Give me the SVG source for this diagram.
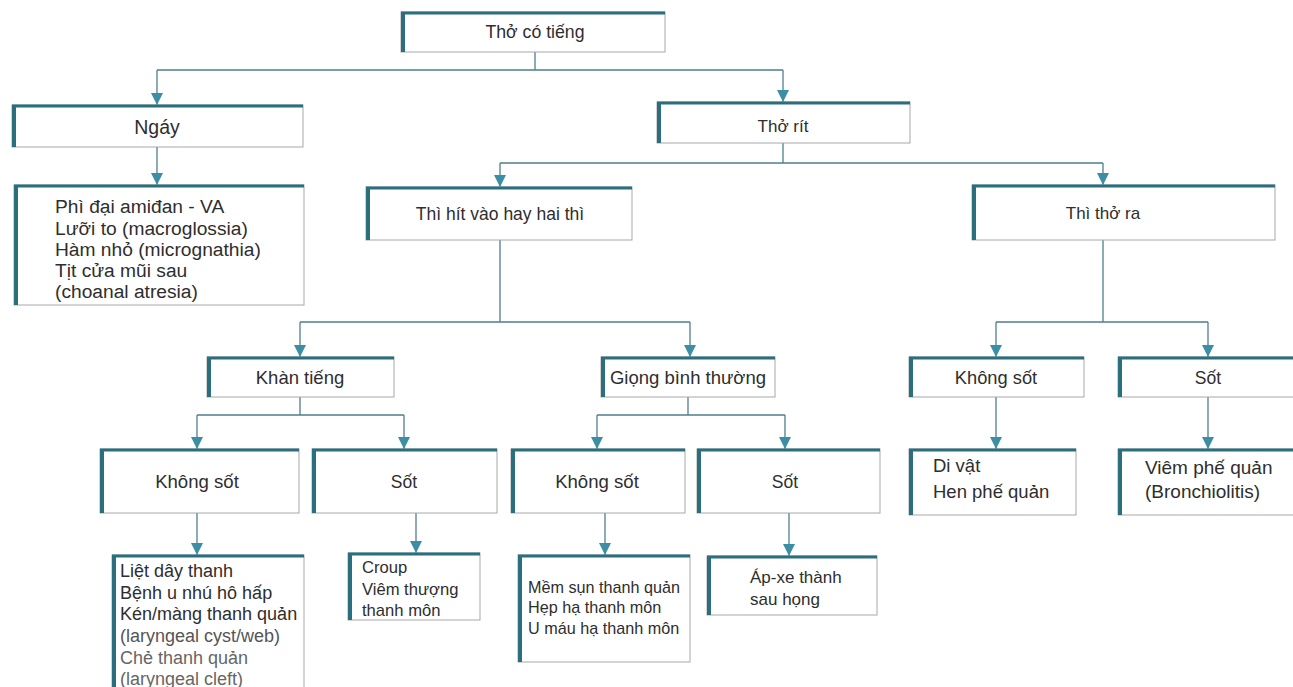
<svg xmlns="http://www.w3.org/2000/svg" width="1293" height="687" viewBox="0 0 1293 687">
<style>
.box{fill:#fff;stroke:#a8a8a8;stroke-width:1}
.top{stroke:#2b6f7e;stroke-width:3}
.left{stroke:#2b6f7e;stroke-width:4}
.h{font-family:"Liberation Sans",Arial,sans-serif;font-size:17px;fill:#2e2e2e;text-anchor:middle}
.l{font-family:"Liberation Sans",Arial,sans-serif;font-size:17.5px;fill:#2e2e2e}
.c{fill:none;stroke:#4f7f8c;stroke-width:1.3}
.ca{fill:none;stroke:#4f7f8c;stroke-width:1.3;marker-end:url(#ah)}
</style>
<defs>
<marker id="ah" viewBox="0 0 12 12" refX="12" refY="6" markerWidth="12" markerHeight="12" markerUnits="userSpaceOnUse" orient="auto">
<path d="M0,0 L12,6 L0,12 z" fill="#3c8ea5"/>
</marker>
</defs>
<rect width="1293" height="687" fill="#fff"/>

<g id="connectors">
<path class="c" d="M535,52 V70 M157,70 H783"/>
<path class="ca" d="M157,70 V105"/>
<path class="ca" d="M783,70 V102"/>
<path class="ca" d="M157,147 V185"/>
<path class="c" d="M783,143 V163 M500,163 H1103"/>
<path class="ca" d="M500,163 V187"/>
<path class="ca" d="M1103,163 V185"/>
<path class="c" d="M500,240 V322 M300,322 H690"/>
<path class="ca" d="M300,322 V357"/>
<path class="ca" d="M690,322 V357"/>
<path class="c" d="M1103,240 V322 M996,322 H1208"/>
<path class="ca" d="M996,322 V357"/>
<path class="ca" d="M1208,322 V357"/>
<path class="c" d="M300,397 V415 M197,415 H404"/>
<path class="ca" d="M197,415 V449"/>
<path class="ca" d="M404,415 V449"/>
<path class="c" d="M688,397 V415 M597,415 H785"/>
<path class="ca" d="M597,415 V449"/>
<path class="ca" d="M785,415 V449"/>
<path class="ca" d="M996,397 V449"/>
<path class="ca" d="M1208,397 V449"/>
<path class="ca" d="M197,513 V555"/>
<path class="ca" d="M416,513 V553"/>
<path class="ca" d="M605,513 V555"/>
<path class="ca" d="M789,513 V556"/>
</g>

<g id="n-tho-co-tieng">
<rect class="box" x="401" y="12" width="264" height="40"/>
<line class="top" x1="401" y1="13" x2="665" y2="13"/><line class="left" x1="403" y1="12" x2="403" y2="52"/>
<text class="h" x="535" y="38" style="font-size:17.7px">Thở có tiếng</text>
</g>

<g id="n-ngay">
<rect class="box" x="12" y="105" width="291" height="42"/>
<line class="top" x1="12" y1="106" x2="303" y2="106"/><line class="left" x1="14" y1="105" x2="14" y2="147"/>
<text class="h" x="157" y="134" style="font-size:19.5px">Ngáy</text>
</g>

<g id="n-ngay-list">
<rect class="box" x="14" y="185" width="290" height="120"/>
<line class="top" x1="14" y1="186" x2="304" y2="186"/><line class="left" x1="16" y1="185" x2="16" y2="305"/>
<g style="font-size:19.2px">
<text class="l" x="55" y="213" style="font-size:19.2px">Phì đại amiđan - VA</text>
<text class="l" x="55" y="235" style="font-size:19.2px">Lưỡi to (macroglossia)</text>
<text class="l" x="55" y="256" style="font-size:19.2px">Hàm nhỏ (micrognathia)</text>
<text class="l" x="55" y="277" style="font-size:19.2px">Tịt cửa mũi sau</text>
<text class="l" x="55" y="298" style="font-size:19.2px">(choanal atresia)</text>
</g>
</g>

<g id="n-tho-rit">
<rect class="box" x="657" y="102" width="253" height="41"/>
<line class="top" x1="657" y1="103" x2="910" y2="103"/><line class="left" x1="659" y1="102" x2="659" y2="143"/>
<text class="h" x="783" y="132">Thở rít</text>
</g>

<g id="n-thi-hit-vao">
<rect class="box" x="366" y="187" width="266" height="53"/>
<line class="top" x1="366" y1="188" x2="632" y2="188"/><line class="left" x1="368" y1="187" x2="368" y2="240"/>
<text class="h" x="500" y="220" style="font-size:17.5px">Thì hít vào hay hai thì</text>
</g>

<g id="n-thi-tho-ra">
<rect class="box" x="972" y="185" width="303" height="55"/>
<line class="top" x1="972" y1="186" x2="1275" y2="186"/><line class="left" x1="974" y1="185" x2="974" y2="240"/>
<text class="h" x="1103" y="219">Thì thở ra</text>
</g>

<g id="n-khan-tieng">
<rect class="box" x="207" y="357" width="187" height="40"/>
<line class="top" x1="207" y1="358" x2="394" y2="358"/><line class="left" x1="209" y1="357" x2="209" y2="397"/>
<text class="h" x="300" y="384" style="font-size:18.5px">Khàn tiếng</text>
</g>

<g id="n-giong-binh-thuong">
<rect class="box" x="601" y="357" width="174" height="40"/>
<line class="top" x1="601" y1="358" x2="775" y2="358"/><line class="left" x1="603" y1="357" x2="603" y2="397"/>
<text class="h" x="688" y="384" style="font-size:18.5px">Giọng bình thường</text>
</g>

<g id="n-khong-sot-r">
<rect class="box" x="909" y="357" width="175" height="40"/>
<line class="top" x1="909" y1="358" x2="1084" y2="358"/><line class="left" x1="911" y1="357" x2="911" y2="397"/>
<text class="h" x="996" y="384" style="font-size:18.3px">Không sốt</text>
</g>

<g id="n-sot-r">
<rect class="box" x="1118" y="357" width="185" height="40"/>
<line class="top" x1="1118" y1="358" x2="1293" y2="358"/><line class="left" x1="1120" y1="357" x2="1120" y2="397"/>
<text class="h" x="1208" y="384" style="font-size:17.5px">Sốt</text>
</g>

<g id="n-khong-sot-1">
<rect class="box" x="100" y="449" width="199" height="64"/>
<line class="top" x1="100" y1="450" x2="299" y2="450"/><line class="left" x1="102" y1="449" x2="102" y2="513"/>
<text class="h" x="197" y="488" style="font-size:18.6px">Không sốt</text>
</g>

<g id="n-sot-1">
<rect class="box" x="312" y="449" width="185" height="64"/>
<line class="top" x1="312" y1="450" x2="497" y2="450"/><line class="left" x1="314" y1="449" x2="314" y2="513"/>
<text class="h" x="404" y="488" style="font-size:17.5px">Sốt</text>
</g>

<g id="n-khong-sot-2">
<rect class="box" x="511" y="449" width="174" height="64"/>
<line class="top" x1="511" y1="450" x2="685" y2="450"/><line class="left" x1="513" y1="449" x2="513" y2="513"/>
<text class="h" x="597" y="488" style="font-size:18.6px">Không sốt</text>
</g>

<g id="n-sot-2">
<rect class="box" x="697" y="449" width="183" height="64"/>
<line class="top" x1="697" y1="450" x2="880" y2="450"/><line class="left" x1="699" y1="449" x2="699" y2="513"/>
<text class="h" x="785" y="488" style="font-size:17.5px">Sốt</text>
</g>

<g id="n-di-vat">
<rect class="box" x="909" y="449" width="167" height="66"/>
<line class="top" x1="909" y1="450" x2="1076" y2="450"/><line class="left" x1="911" y1="449" x2="911" y2="515"/>
<text class="l" x="933" y="472" style="font-size:18.5px">Di vật</text>
<text class="l" x="933" y="498" style="font-size:18.5px">Hen phế quản</text>
</g>

<g id="n-viem-phe-quan">
<rect class="box" x="1118" y="449" width="185" height="66"/>
<line class="top" x1="1118" y1="450" x2="1293" y2="450"/><line class="left" x1="1120" y1="449" x2="1120" y2="515"/>
<text class="l" x="1145" y="474" style="font-size:19px">Viêm phế quản</text>
<text class="l" x="1145" y="498" style="font-size:19px">(Bronchiolitis)</text>
</g>

<g id="n-list-1">
<rect class="box" x="112" y="555" width="192" height="150"/>
<line class="top" x1="112" y1="556" x2="304" y2="556"/><line class="left" x1="114" y1="555" x2="114" y2="687"/>
<text class="l" x="120" y="577" style="font-size:18px">Liệt dây thanh</text>
<text class="l" x="120" y="599" style="font-size:18px">Bệnh u nhú hô hấp</text>
<text class="l" x="120" y="620" style="font-size:18px">Kén/màng thanh quản</text>
<text class="l" x="120" y="642" style="font-size:18px;fill:#555">(laryngeal cyst/web)</text>
<text class="l" x="120" y="664" style="font-size:18px;fill:#666">Chẻ thanh quản</text>
<text class="l" x="120" y="685" style="font-size:18px;fill:#666">(laryngeal cleft)</text>
</g>

<g id="n-list-2">
<rect class="box" x="348" y="553" width="132" height="67"/>
<line class="top" x1="348" y1="554" x2="480" y2="554"/><line class="left" x1="350" y1="553" x2="350" y2="620"/>
<text class="l" x="362" y="573" style="font-size:16.6px">Croup</text>
<text class="l" x="362" y="595" style="font-size:16.6px">Viêm thượng</text>
<text class="l" x="362" y="616" style="font-size:16.6px">thanh môn</text>
</g>

<g id="n-list-3">
<rect class="box" x="518" y="555" width="172" height="107"/>
<line class="top" x1="518" y1="556" x2="690" y2="556"/><line class="left" x1="520" y1="555" x2="520" y2="662"/>
<text class="l" x="528" y="593" style="font-size:16.2px">Mềm sụn thanh quản</text>
<text class="l" x="528" y="613" style="font-size:16.2px">Hẹp hạ thanh môn</text>
<text class="l" x="528" y="634" style="font-size:16.2px">U máu hạ thanh môn</text>
</g>

<g id="n-list-4">
<rect class="box" x="707" y="556" width="170" height="59"/>
<line class="top" x1="707" y1="557" x2="877" y2="557"/><line class="left" x1="709" y1="556" x2="709" y2="615"/>
<text class="l" x="750" y="583" style="font-size:17px">Áp-xe thành</text>
<text class="l" x="750" y="605" style="font-size:17px">sau họng</text>
</g>
</svg>
